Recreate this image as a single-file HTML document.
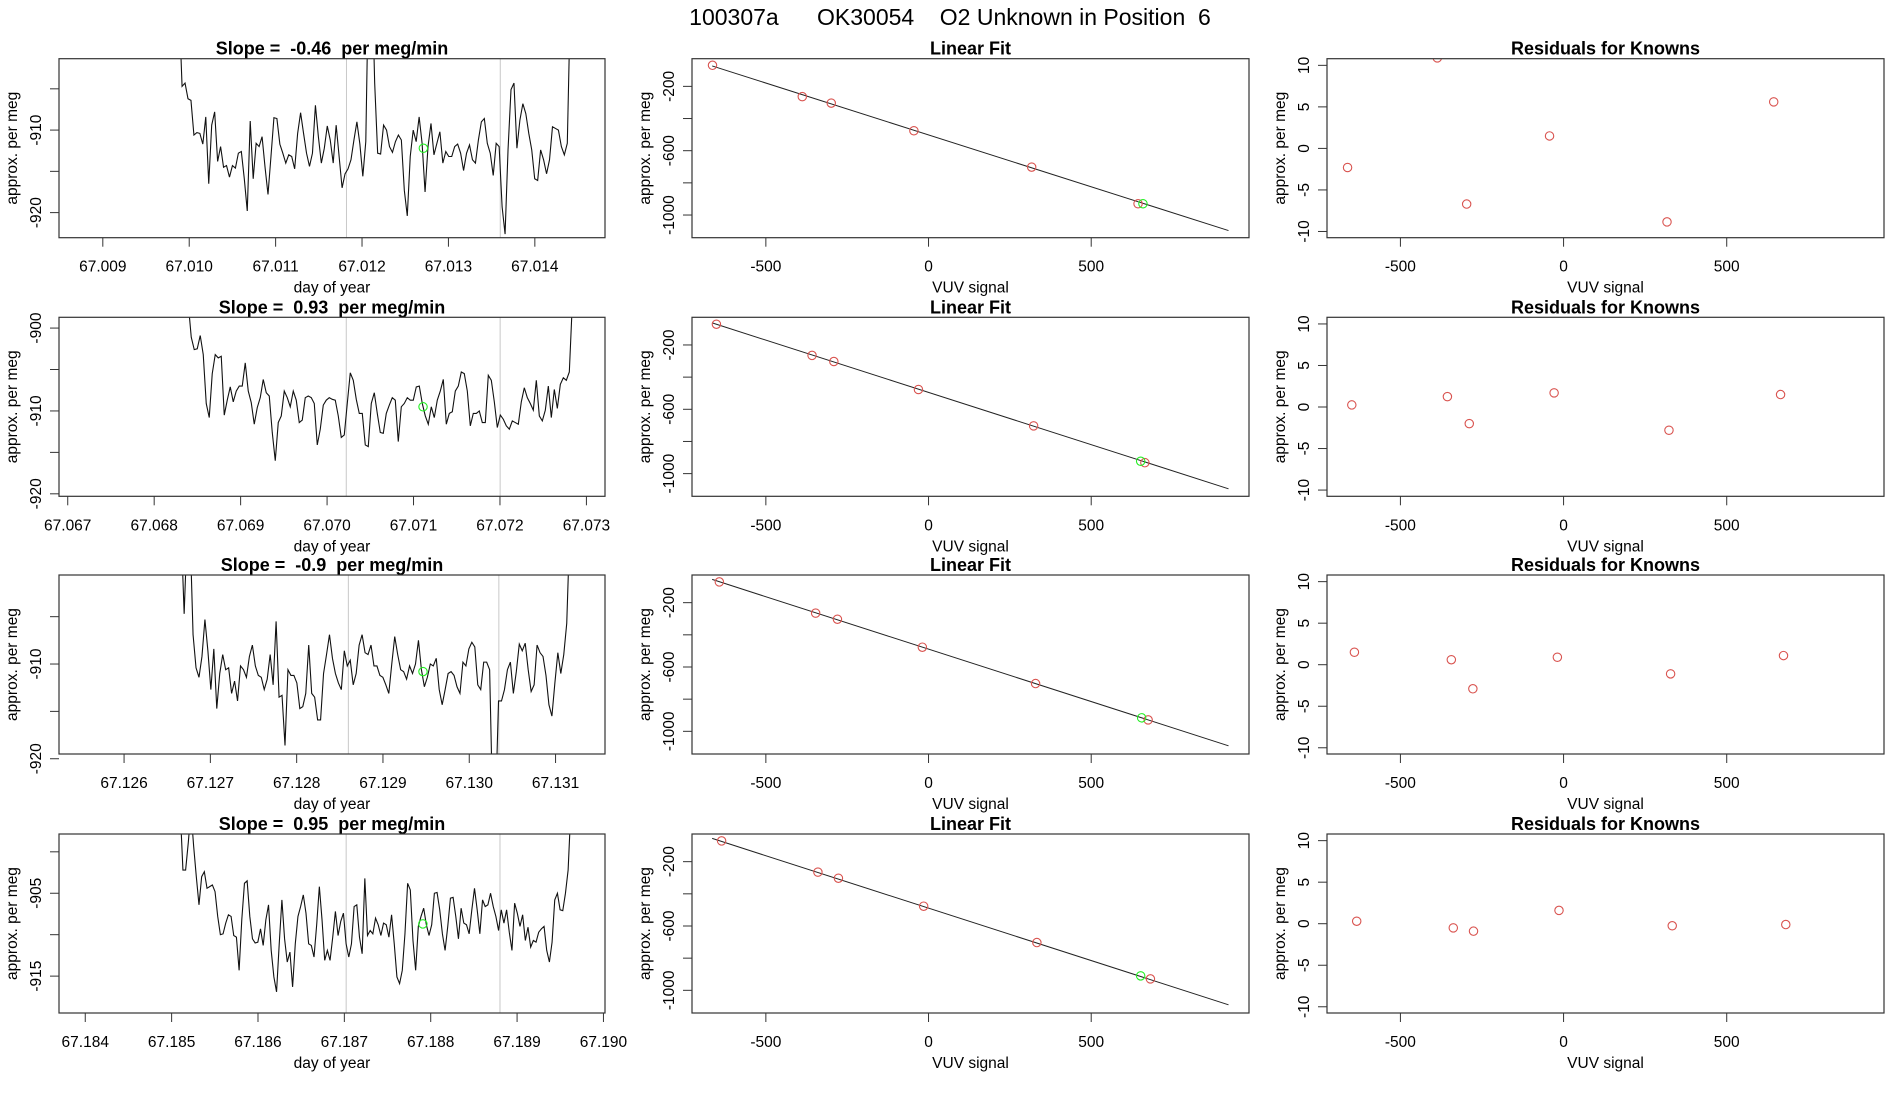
<!DOCTYPE html>
<html><head><meta charset="utf-8"><title>100307a OK30054</title>
<style>
html,body{margin:0;padding:0;background:#fff;}
svg{display:block;font-family:"Liberation Sans",Arial,sans-serif;}
</style></head>
<body>
<svg id="chart" width="1900" height="1100" viewBox="0 0 1900 1100" xmlns="http://www.w3.org/2000/svg">
<rect x="0" y="0" width="1900" height="1100" fill="#fff"/>
<text x="950" y="25" font-size="23" text-anchor="middle" xml:space="preserve" style="white-space:pre">100307a      OK30054    O2 Unknown in Position  6</text>
</svg>
<script>
// ---------- Data: time series (column 1) ----------
const ts1Values = [-895,-904.7,-904.3,-906.2,-906.4,-910.6,-910.3,-910.4,-911.7,-908.4,-916.5,-909.4,-907.8,-913.8,-912,-914.5,-914.3,-915.7,-914.3,-914.6,-912.8,-912.6,-915.9,-919.8,-908.9,-915.9,-911.6,-912,-910.8,-914.5,-917.8,-913.2,-908.5,-908.6,-911.7,-912.8,-914,-913,-913.2,-914.7,-910.4,-907.9,-910.4,-912.8,-914.4,-912.8,-907,-910.8,-914,-912.2,-909.5,-911.2,-914,-909.4,-913.2,-917,-915.3,-914.7,-913.6,-911.2,-909,-911.7,-915.6,-911.4,-890,-890,-904.3,-912.8,-912.9,-909.4,-910,-912,-912.7,-911.4,-910.6,-911.2,-917.3,-920.4,-913.2,-910,-911.4,-908.4,-911.6,-917.5,-912,-909.2,-913,-911.6,-910.2,-914,-912.6,-913.2,-913.2,-912,-911.7,-912.8,-914.9,-912.8,-911.8,-913.6,-914,-911.2,-909,-908.6,-911.6,-912.8,-915.5,-911.6,-912,-919.3,-922.6,-912.4,-905.1,-904.3,-912.2,-908.8,-906.8,-908,-910.4,-912.4,-915.9,-916.1,-912.4,-913.6,-915.3,-913.6,-909.6,-909.8,-910,-912,-913,-911.6,-895];
const ts2Values = [-897,-901.1,-902.6,-902.5,-900.9,-903.2,-909.1,-910.8,-905.5,-903.2,-903.6,-903.4,-910.5,-908.7,-907.1,-908.9,-907.6,-907,-907,-904.2,-907.6,-909,-911.6,-909.6,-908.4,-906.2,-907.8,-908.2,-912.6,-916,-911.4,-910.6,-907.6,-908.4,-909.5,-907.6,-908.7,-911.4,-911.1,-908.4,-908.2,-908.4,-909.1,-914.1,-912.2,-909.3,-908.7,-908.4,-908.6,-908.7,-910.6,-913.2,-912.9,-909.1,-905.4,-906.3,-908.6,-910.3,-910.3,-914.1,-914.3,-909.1,-907.8,-910.3,-912.6,-912.7,-910.3,-909.3,-908.4,-908.7,-913.7,-909.5,-909.1,-908.4,-908.7,-908.7,-907.1,-907,-909.1,-910.6,-911.6,-909.5,-910.8,-908.7,-907.6,-906.2,-911.6,-910.3,-910.1,-907.6,-907,-905.3,-905.5,-907.6,-911.8,-910.3,-910.3,-910,-911.4,-911.4,-905.7,-906.3,-908.9,-912,-910.5,-911,-911.8,-912.2,-911.2,-911.4,-911.6,-908.9,-907.2,-908.4,-909.1,-909.9,-906.3,-910.6,-911.2,-909.9,-907,-910.8,-907.4,-909.7,-906.8,-906,-906.3,-905.3,-897];
const ts3Values = [-896,-904.7,-896,-896,-906.9,-910.4,-911.4,-909.2,-905.3,-908.6,-912.7,-908.4,-914.7,-911,-909,-910.6,-910.4,-913.1,-911.8,-913.9,-910.2,-910.6,-911.4,-909.2,-908,-910.2,-911.2,-911.4,-912.7,-911.6,-909,-912.2,-905.5,-913.5,-913.3,-918.6,-910.6,-911.2,-911.2,-912,-914.7,-914.5,-913.1,-908,-913.1,-913.5,-915.9,-915.9,-911,-909,-906.9,-909.4,-911,-912,-912.7,-908.6,-910.2,-909.6,-912.2,-911,-908,-906.9,-908.8,-909,-908,-910.2,-910.2,-911.2,-911.4,-912.2,-913.1,-910,-907.1,-909,-910.6,-910.8,-911.6,-910.2,-911,-910,-907.5,-910.6,-912.4,-911.4,-910,-910.2,-909.4,-912.7,-914.3,-912.7,-911,-910.8,-911.2,-912.4,-913.1,-909.8,-910.2,-908.4,-907.7,-908.2,-912.2,-912.7,-909.8,-909.8,-910.6,-925,-925,-913.9,-913.9,-912.7,-910.6,-909.8,-913.1,-910.8,-907.9,-908.6,-907.8,-910.6,-912.9,-912.2,-908,-908.8,-909.2,-911.2,-914.3,-915.5,-912,-908.8,-911,-909,-905.7,-896];
const ts4Values = [-895,-902.2,-902.2,-898.9,-895,-899.3,-903,-906.4,-903,-902.4,-904.4,-904.2,-904,-904.8,-907.8,-910,-909.9,-908.6,-907.6,-907.8,-910.1,-910.3,-914.3,-908.2,-903.8,-903.5,-907.8,-910.5,-911,-910.9,-909.3,-911.3,-908.2,-906.4,-911.9,-915.1,-916.9,-911.1,-905.8,-910.5,-913.3,-912.1,-916.3,-911.1,-907.8,-906.6,-905.2,-907.4,-911.1,-911.3,-912.7,-908.8,-904.2,-908.2,-913.1,-911.9,-913.1,-910.3,-907.2,-910.1,-908.4,-907.4,-911.1,-912.7,-911.1,-906.6,-906.4,-910.3,-912.3,-903.2,-910.1,-909.5,-909.9,-908,-908.8,-910.1,-908.6,-908.8,-910.3,-907.6,-911.1,-915.1,-915.9,-914.3,-909.9,-903.8,-904.6,-910.7,-914.3,-909,-907.8,-906.8,-908.8,-910.1,-908.8,-905,-904.9,-907,-909.9,-911.9,-909,-905.6,-905.5,-907.8,-910.5,-906.8,-908.6,-908.8,-909.9,-907,-904.4,-907,-909.9,-905.8,-906.6,-906.4,-905,-906.6,-907.8,-909.5,-907,-908.6,-907,-909.7,-911.9,-906.2,-907.4,-909,-907.6,-910.7,-909.1,-911.5,-910.7,-910.9,-909.7,-909.3,-909,-911.9,-913.3,-910.9,-905.8,-905,-907,-907.1,-905,-902.2,-895];
const tsStartTimes = [67.009883, 67.068394, 67.126662, 67.185100];
const tsEndTimes   = [67.014410, 67.072837, 67.131164, 67.189622];
const tsWindowTimes = [[67.01182, 67.0136],[67.070222, 67.072002],[67.128599, 67.130343],[67.187021, 67.188802]];
const tsUnknownTime  = [67.01271, 67.07111, 67.129464, 67.187909];
const tsUnknownValue = [-912.2, -909.5, -910.8, -908.7];
const slopeLabels = ["-0.46", "0.93", "-0.9", "0.95"];
const tsXTicks = [
  ["67.009","67.010","67.011","67.012","67.013","67.014"],
  ["67.067","67.068","67.069","67.070","67.071","67.072","67.073"],
  ["67.126","67.127","67.128","67.129","67.130","67.131"],
  ["67.184","67.185","67.186","67.187","67.188","67.189","67.190"]
];
const tsYTicks = [[-905,-910,-915,-920],[-900,-905,-910,-915,-920],[-905,-910,-915,-920],[-900,-905,-910,-915]];
const tsYTickLabels = [["","-910","","-920"],["-900","","-910","","-920"],["","-910","","-920"],["","-905","","-915"]];
const tsXRange = [[67.008493,67.014812],[67.066899,67.073215],[67.125246,67.131573],[67.183696,67.190018]];
const tsYRange = [[-901.35,-923.04],[-898.7,-920.3],[-900.6,-919.5],[-897.85,-919.45]];

// ---------- Data: linear fit (column 2) ----------
const fitX = [
  [-664,-388,-299,-45,317,644],
  [-652,-358,-291,-31,323,665],
  [-643,-347,-280,-19,329,675],
  [-636,-340,-277,-15,333,682]
];
const fitY = [
  [-69,-264,-304,-476,-702,-930],
  [-71,-265,-303,-477,-703,-932],
  [-71,-265,-303,-477,-703,-929],
  [-71,-265,-303,-477,-703,-929]
];
const unknownX = [659, 652, 655, 652];
const unknownY = [-930, -923, -916, -910];
const fitSlope = [-0.645, -0.650, -0.652, -0.652];
const fitIntercept = [-502, -495, -489, -489];
const fitLineX = [-665, 922];
const fitXTicks = [-500, 0, 500];
const fitYTicks = [-200, -400, -600, -800, -1000];
const fitYTickLabels = ["-200", "", "-600", "", "-1000"];

// ---------- Data: residuals (column 3) ----------
const residX = [
  [-662,-387,-297,-43,317,644],
  [-649,-356,-289,-29,323,665],
  [-641,-344,-278,-19,328,674],
  [-634,-338,-276,-14,333,681]
];
const residY = [
  [-2.3,10.9,-6.7,1.5,-8.85,5.6],
  [0.25,1.25,-2,1.7,-2.8,1.5],
  [1.5,0.6,-2.9,0.9,-1.1,1.1],
  [0.3,-0.5,-0.9,1.6,-0.25,-0.1]
];
const residYTicks = [10, 5, 0, -5, -10];

// ---------- Rendering ----------
const NS = "http://www.w3.org/2000/svg";
const svg = document.getElementById("chart");
const colLeft = [59, 692, 1327];
const colWidth = [546, 557, 557];
const boxH = 179;
const rowTop = [58.7, 317.3, 575, 834];
const RED = "#d9534f", GREEN = "#22ee22";

function mk(tag, attrs, parent) {
  const e = document.createElementNS(NS, tag);
  for (const k in attrs) e.setAttribute(k, attrs[k]);
  (parent || svg).appendChild(e);
  return e;
}
function txt(str, x, y, size, opts, parent) {
  const t = mk("text", Object.assign({x: x, y: y, "font-size": size, "text-anchor": "middle", fill: "#000"}, opts || {}), parent);
  t.textContent = str;
  return t;
}
function linScale(d0, d1, r0, r1) { return v => r0 + (v - d0) / (d1 - d0) * (r1 - r0); }

function panel(r, c, title, xlabel) {
  const g = mk("g", {});
  
  
  const L = colLeft[c], T = rowTop[r], W = colWidth[c];
  const clipId = "clip" + r + c;
  const cp = mk("clipPath", {id: clipId}, g);
  mk("rect", {x: L, y: T, width: W, height: boxH}, cp);
  const tt = txt(title, L + W / 2, T - 4, 18, {"font-weight": "bold", "xml:space": "preserve", style: "white-space:pre"}, g);
  
  
  const xl = txt(xlabel, L + W / 2, T + boxH + 55, 15.5, {}, g);
  
  
  const yl = txt("approx. per meg", 0, 0, 15.5, {transform: "translate(" + (L - 42) + "," + (T + boxH / 2) + ") rotate(-90)"}, g);
  
  
  return {g: g, L: L, T: T, W: W, clipId: clipId};
}
function drawBox(p) {
  const b = mk("rect", {x: p.L, y: p.T, width: p.W, height: boxH, fill: "none", stroke: "#333", "stroke-width": 1.2}, p.g);
  
  
}
function xTick(p, px, label) {
  const y0 = p.T + boxH;
  mk("line", {x1: px, x2: px, y1: y0, y2: y0 + 9, stroke: "#333", "stroke-width": 1}, p.g);
  if (label !== "") {
    const t = txt(label, px, y0 + 34, 15.5, {}, p.g);
    
    
  }
}
function yTick(p, py, label) {
  mk("line", {x1: p.L - 9, x2: p.L, y1: py, y2: py, stroke: "#333", "stroke-width": 1}, p.g);
  if (label !== "") {
    const t = txt(label, 0, 0, 15.5, {transform: "translate(" + (p.L - 18) + "," + py + ") rotate(-90)"}, p.g);
    
    
  }
}
function circle(p, cx, cy, color, name) {
  const c = mk("circle", {cx: cx, cy: cy, r: 4.2, fill: "none", stroke: color, "stroke-width": 1.1, "clip-path": "url(#" + p.clipId + ")"}, p.g);
  
  
}

const tsSeries = [ts1Values, ts2Values, ts3Values, ts4Values];
for (let r = 0; r < 4; r++) {
  // Column 1: time series
  let p = panel(r, 0, "Slope =  " + slopeLabels[r] + "  per meg/min", "day of year");
  const sx = linScale(tsXRange[r][0], tsXRange[r][1], p.L, p.L + p.W);
  const sy = linScale(tsYRange[r][0], tsYRange[r][1], p.T, p.T + boxH);
  tsWindowTimes[r].forEach(t => {
    const l = mk("line", {x1: sx(t), x2: sx(t), y1: p.T, y2: p.T + boxH, stroke: "#c8c8c8", "stroke-width": 1}, p.g);
    
    
  });
  const vals = tsSeries[r];
  const n = vals.length;
  const pts = vals.map((v, i) => {
    const t = tsStartTimes[r] + (tsEndTimes[r] - tsStartTimes[r]) * i / (n - 1);
    return sx(t).toFixed(2) + "," + sy(v).toFixed(2);
  }).join(" ");
  const line = mk("polyline", {points: pts, fill: "none", stroke: "#111", "stroke-width": 1.1, "clip-path": "url(#" + p.clipId + ")"}, p.g);
  
  
  circle(p, sx(tsUnknownTime[r]), sy(tsUnknownValue[r]), GREEN, 'unknown-point');
  tsXTicks[r].forEach(lab => xTick(p, sx(parseFloat(lab)), lab));
  tsYTicks[r].forEach((v, i) => yTick(p, sy(v), tsYTickLabels[r][i]));
  drawBox(p);

  // Column 2: linear fit
  p = panel(r, 1, "Linear Fit", "VUV signal");
  const fx = linScale(-727, 985, p.L, p.L + p.W);
  const fy = linScale(-28, -1141, p.T, p.T + boxH);
  const fl = mk("line", {x1: fx(fitLineX[0]), y1: fy(fitIntercept[r] + fitSlope[r] * fitLineX[0]), x2: fx(fitLineX[1]), y2: fy(fitIntercept[r] + fitSlope[r] * fitLineX[1]), stroke: "#222", "stroke-width": 1}, p.g);
  
  
  fitX[r].forEach((x, i) => circle(p, fx(x), fy(fitY[r][i]), RED, 'known-point'));
  circle(p, fx(unknownX[r]), fy(unknownY[r]), GREEN, 'unknown-point');
  fitXTicks.forEach(v => xTick(p, fx(v), String(v)));
  fitYTicks.forEach((v, i) => yTick(p, fy(v), fitYTickLabels[i]));
  drawBox(p);

  // Column 3: residuals
  p = panel(r, 2, "Residuals for Knowns", "VUV signal");
  const rx = linScale(-725, 982, p.L, p.L + p.W);
  const ry = linScale(10.8, -10.75, p.T, p.T + boxH);
  residX[r].forEach((x, i) => circle(p, rx(x), ry(residY[r][i]), RED, 'residual-point'));
  fitXTicks.forEach(v => xTick(p, rx(v), String(v)));
  residYTicks.forEach(v => yTick(p, ry(v), String(v)));
  drawBox(p);
}
</script>
</body></html>
